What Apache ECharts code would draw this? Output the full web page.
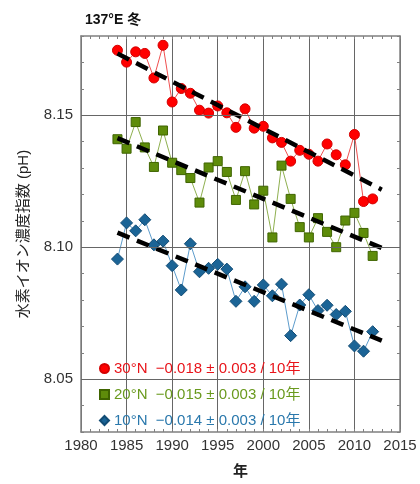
<!DOCTYPE html>
<html><head><meta charset="utf-8">
<script src="https://cdn.jsdelivr.net/npm/echarts@6/dist/echarts.min.js"></script>
<style>html,body{margin:0;padding:0;background:#fff}#c{width:420px;height:484px}</style>
</head><body><div id="c"></div>
<script>
var years = [1984,1985,1986,1987,1988,1989,1990,1991,1992,1993,1994,1995,1996,1997,1998,1999,2000,2001,2002,2003,2004,2005,2006,2007,2008,2009,2010,2011,2012];
var ph30N = [8.1746,8.1701,8.1740,8.1734,8.1641,8.1765,8.1550,8.1601,8.1583,8.1519,8.1508,8.1535,8.1509,8.1454,8.1524,8.1451,8.1458,8.1414,8.1397,8.1326,8.1367,8.1352,8.1326,8.1391,8.1350,8.1312,8.1427,8.1173,8.1183];
var ph20N = [8.1409,8.1373,8.1474,8.1378,8.1304,8.1442,8.1320,8.1292,8.1262,8.1169,8.1302,8.1326,8.1285,8.1179,8.1288,8.1162,8.1214,8.1037,8.1309,8.1183,8.1076,8.1037,8.1110,8.1058,8.1000,8.1101,8.1130,8.1054,8.0967];
var ph10N = [8.0955,8.1092,8.1062,8.1104,8.1009,8.1023,8.0930,8.0838,8.1013,8.0907,8.0920,8.0935,8.0917,8.0795,8.0850,8.0795,8.0857,8.0816,8.0860,8.0665,8.0781,8.0820,8.0760,8.0780,8.0745,8.0757,8.0626,8.0606,8.0680];
var trendYears = [1984, 2013];
var trend30N = [8.1734, 8.1218];
var trend20N = [8.1413, 8.0997];
var trend10N = [8.1055, 8.0646];
var seriesNames = ['30°N','20°N','10°N'];
var trendTexts = ['−0.018 ± 0.003 / 10年','−0.015 ± 0.003 / 10年','−0.014 ± 0.003 / 10年'];
var yGridValues = [8.05, 8.10, 8.15];
var xTicks = [1980,1985,1990,1995,2000,2005,2010,2015];

function pairs(xs, ys){ return xs.map(function(x,i){return [x, ys[i]];}); }

var font = '"Liberation Sans","Noto Sans CJK JP",Arial,sans-serif';
var frame = '#808080';
var colors = {
  r: {fill:'#ff0000', border:'#d40000', line:'#f05050', text:'#e8141a'},
  g: {fill:'#5e8c0a', border:'#3f6400', line:'#8fb050', text:'#6a9a1e'},
  b: {fill:'#1b6496', border:'#124c75', line:'#5d9ccc', text:'#2a78ac'}
};

function dataSeries(name, data, c, symbol, size){
  return {
    name: name, type: 'line', data: data, symbol: symbol, symbolSize: size,
    itemStyle: {color: c.fill, borderColor: c.border, borderWidth: 1},
    lineStyle: {color: c.line, width: 1},
    z: 3, animation: false
  };
}
function trendSeries(data){
  return {
    type: 'line', data: data, symbol: 'none', silent: true,
    lineStyle: {color: '#000', width: 4.5, type: [13, 8]},
    z: 4, animation: false
  };
}

var chart = echarts.init(document.getElementById('c'));
chart.setOption({
  backgroundColor: '#fff',
  animation: false,
  title: {text: '137°E 冬', left: 80, top: 8,
    textStyle: {fontFamily: font, fontSize: 14, fontWeight: 'bold', color: '#111'}},
  grid: {left: 81, right: 20, top: 36, bottom: 50},
  legend: {
    orient: 'vertical', left: 99, top: 361, itemWidth: 9, itemHeight: 9, itemGap: 11,
    selectedMode: false, padding: 0,
    data: [
      {name: seriesNames[0], icon: 'circle', textStyle: {color: colors.r.text}},
      {name: seriesNames[1], icon: 'rect', textStyle: {color: colors.g.text}},
      {name: seriesNames[2], icon: 'diamond', textStyle: {color: colors.b.text}}
    ],
    formatter: function(n){ return n + '  ' + trendTexts[seriesNames.indexOf(n)]; },
    textStyle: {fontFamily: font, fontSize: 15, lineHeight: 15}
  },
  xAxis: [{
    type: 'value', min: 1980, max: 2015, interval: 5,
    name: '年', nameLocation: 'middle', nameGap: 32,
    nameTextStyle: {fontFamily: font, fontSize: 15, fontWeight: 'bold', color: '#222'},
    axisLine: {show: true, onZero: false, lineStyle: {color: frame, width: 1.5}},
    axisTick: {show: true, inside: true, length: 3, lineStyle: {color: frame}},
    minorTick: {show: true, splitNumber: 5, length: 3, lineStyle: {color: frame}},
    axisLabel: {fontFamily: font, fontSize: 15, color: '#333', margin: 6,
      formatter: function(v){ return xTicks.indexOf(v) >= 0 ? String(v) : ''; }},
    splitLine: {show: true, lineStyle: {color: '#666', width: 1}}
  },{
    type: 'value', min: 1980, max: 2015, interval: 5, position: 'top',
    axisLine: {show: true, onZero: false, lineStyle: {color: frame, width: 1.5}},
    axisTick: {show: true, inside: true, length: 3, lineStyle: {color: frame}},
    minorTick: {show: true, splitNumber: 5, length: 3, lineStyle: {color: frame}},
    axisLabel: {show: false}, splitLine: {show: false}
  }],
  yAxis: [{
    type: 'value', min: 8.03, max: 8.18, interval: 0.01,
    name: '水素イオン濃度指数 (pH)', nameLocation: 'middle', nameGap: 50,
    nameTextStyle: {fontFamily: font, fontSize: 15, color: '#222'},
    axisLine: {show: true, onZero: false, lineStyle: {color: frame, width: 1.5}},
    axisTick: {show: true, inside: true, length: 3, lineStyle: {color: frame}},
    axisLabel: {fontFamily: font, fontSize: 15, color: '#333', margin: 8,
      formatter: function(v){
        var s = v.toFixed(2);
        return yGridValues.some(function(g){return g.toFixed(2) === s;}) ? s : '';
      }},
    splitLine: {show: false}
  },{
    type: 'value', min: 8.03, max: 8.18, interval: 0.01, position: 'right',
    axisLine: {show: true, onZero: false, lineStyle: {color: frame, width: 1.5}},
    axisTick: {show: true, inside: true, length: 3, lineStyle: {color: frame}},
    axisLabel: {show: false}, splitLine: {show: false}
  }],
  series: [
    {type: 'line', data: [], silent: true,
     markLine: {silent: true, symbol: 'none', label: {show: false},
       lineStyle: {color: '#666', width: 1, type: 'solid'},
       data: yGridValues.map(function(v){return {yAxis: v};})}, z: 1},
    dataSeries(seriesNames[0], pairs(years, ph30N), colors.r, 'circle', 10),
    dataSeries(seriesNames[1], pairs(years, ph20N), colors.g, 'rect', 9),
    dataSeries(seriesNames[2], pairs(years, ph10N), colors.b, 'diamond', 12),
    trendSeries(pairs(trendYears, trend30N)),
    trendSeries(pairs(trendYears, trend20N)),
    trendSeries(pairs(trendYears, trend10N))
  ]
});
</script></body></html>
